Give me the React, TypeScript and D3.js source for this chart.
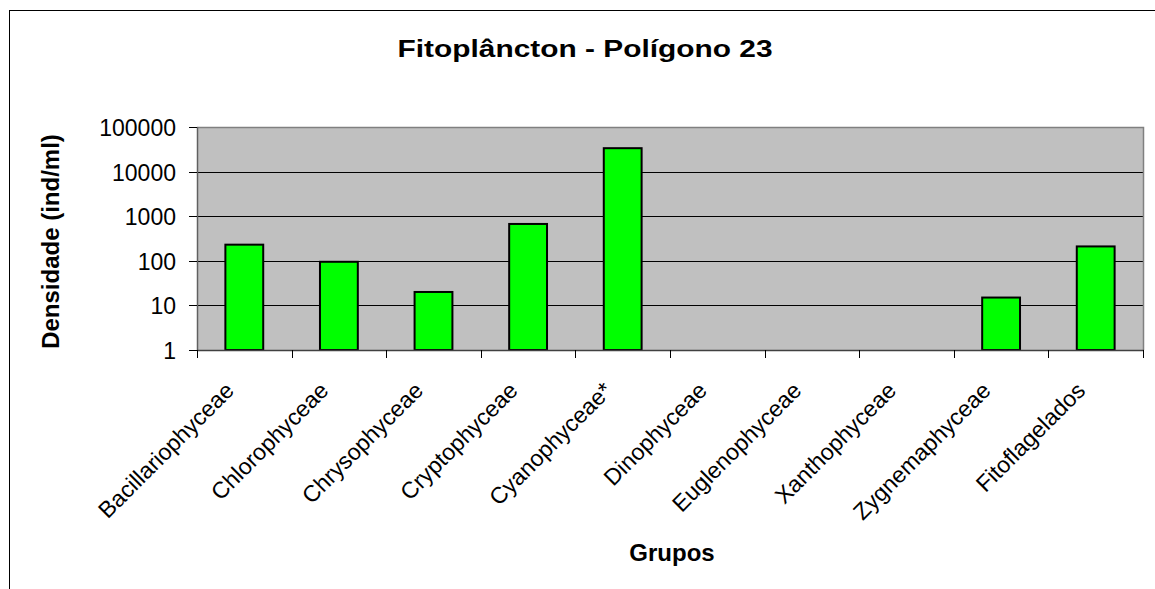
import React, { useEffect, useRef } from "react";
import * as d3 from "d3";

const categories = [
  "Bacillariophyceae",
  "Chlorophyceae",
  "Chrysophyceae",
  "Cryptophyceae",
  "Cyanophyceae*",
  "Dinophyceae",
  "Euglenophyceae",
  "Xanthophyceae",
  "Zygnemaphyceae",
  "Fitoflagelados",
];
const densities = [230, 95, 20, 670, 33500, 0, 0, 0, 15, 210];
const yTicks = [1, 10, 100, 1000, 10000, 100000];

const title = "Fitoplâncton - Polígono 23";
const yTitle = "Densidade (ind/ml)";
const xTitle = "Grupos";

const App = () => {
  const ref = useRef<SVGSVGElement>(null);

  useEffect(() => {
    const width = 1155;
    const height = 589;
    const left = 197;
    const right = 1143;
    const top = 127;
    const bottom = 350;

    const svg = d3.select(ref.current);
    svg.selectAll("*").remove();
    svg.attr("width", width).attr("height", height);

    svg
      .append("rect")
      .attr("width", width)
      .attr("height", height)
      .attr("fill", "white");

    // outer chart frame (right and bottom run off the picture)
    svg
      .append("rect")
      .attr("x", 9.5)
      .attr("y", 10.5)
      .attr("width", 1300)
      .attr("height", 800)
      .attr("fill", "none")
      .attr("stroke", "black");

    const x = d3.scaleBand().domain(categories).range([left, right]).paddingInner(0).paddingOuter(0);
    const y = d3.scaleLog().domain([1, 100000]).range([bottom, top]);

    // plot area
    svg
      .append("rect")
      .attr("x", left)
      .attr("y", top)
      .attr("width", right - left)
      .attr("height", bottom - top)
      .attr("fill", "#c0c0c0");

    // gridlines
    svg
      .append("g")
      .selectAll("line")
      .data(yTicks.slice(1, -1))
      .enter()
      .append("line")
      .attr("x1", left)
      .attr("x2", right)
      .attr("y1", (d) => Math.round(y(d)) + 0.5)
      .attr("y2", (d) => Math.round(y(d)) + 0.5)
      .attr("stroke", "black")
      .attr("stroke-width", 1);

    // plot border top/right
    svg
      .append("path")
      .attr("d", `M${left},${top + 0.5}H${right + 0.5}V${bottom}`)
      .attr("fill", "none")
      .attr("stroke", "#808080")
      .attr("stroke-width", 1.5);

    // bars
    const barW = x.bandwidth() * 0.4;
    svg
      .append("g")
      .selectAll("rect")
      .data(categories.map((c, i) => ({ c, v: densities[i] })).filter((d) => d.v > 0))
      .enter()
      .append("rect")
      .attr("x", (d) => (x(d.c) as number) + x.bandwidth() / 2 - barW / 2)
      .attr("y", (d) => y(d.v))
      .attr("width", barW)
      .attr("height", (d) => bottom - y(d.v))
      .attr("fill", "#00ff00")
      .attr("stroke", "black")
      .attr("stroke-width", 2);

    // y axis
    svg
      .append("line")
      .attr("x1", left + 0.5)
      .attr("x2", left + 0.5)
      .attr("y1", top)
      .attr("y2", bottom)
      .attr("stroke", "#606060")
      .attr("stroke-width", 1.5);

    const yAxis = svg.append("g");
    yTicks.forEach((t) => {
      const yy = Math.round(y(t)) + 0.5;
      yAxis
        .append("line")
        .attr("x1", left - 8)
        .attr("x2", left)
        .attr("y1", yy)
        .attr("y2", yy)
        .attr("stroke", "black");
      yAxis
        .append("text")
        .attr("x", left - 21)
        .attr("y", yy)
        .attr("dy", "0.35em")
        .attr("text-anchor", "end")
        .attr("font-family", "Arial, 'Liberation Sans', sans-serif")
        .attr("font-size", 23)
        .text(d3.format("d")(t));
    });

    // x axis
    svg
      .append("line")
      .attr("x1", left)
      .attr("x2", right + 1)
      .attr("y1", bottom + 0.5)
      .attr("y2", bottom + 0.5)
      .attr("stroke", "#404040")
      .attr("stroke-width", 1.5);

    const bounds = categories.map((c) => x(c) as number).concat([right]);
    svg
      .append("g")
      .selectAll("line")
      .data(bounds)
      .enter()
      .append("line")
      .attr("x1", (d) => Math.round(d) + 0.5)
      .attr("x2", (d) => Math.round(d) + 0.5)
      .attr("y1", bottom)
      .attr("y2", bottom + 8)
      .attr("stroke", "black");

    svg
      .append("g")
      .selectAll("text")
      .data(categories)
      .enter()
      .append("text")
      .attr("transform", (d) => {
        const cx = (x(d) as number) + x.bandwidth() / 2 - 9;
        return `translate(${cx},${bottom + 42}) rotate(-45)`;
      })
      .attr("text-anchor", "end")
      .attr("font-family", "Arial, 'Liberation Sans', sans-serif")
      .attr("font-size", 23)
      .text((d) => d);

    // titles
    svg
      .append("text")
      .attr("x", 585)
      .attr("y", 57)
      .attr("text-anchor", "middle")
      .attr("font-family", "Arial, 'Liberation Sans', sans-serif")
      .attr("font-weight", "bold")
      .attr("font-size", 24)
      .attr("textLength", 375)
      .attr("lengthAdjust", "spacingAndGlyphs")
      .text(title);

    svg
      .append("text")
      .attr("transform", `translate(59,${(top + bottom) / 2 + 3}) rotate(-90)`)
      .attr("text-anchor", "middle")
      .attr("font-family", "Arial, 'Liberation Sans', sans-serif")
      .attr("font-weight", "bold")
      .attr("font-size", 24)
      .text(yTitle);

    svg
      .append("text")
      .attr("x", (left + right) / 2 + 2)
      .attr("y", 561)
      .attr("text-anchor", "middle")
      .attr("font-family", "Arial, 'Liberation Sans', sans-serif")
      .attr("font-weight", "bold")
      .attr("font-size", 24)
      .text(xTitle);
  }, []);

  return <svg ref={ref} style={{ position: "absolute", left: 0, top: 0 }} />;
};

export default App;
